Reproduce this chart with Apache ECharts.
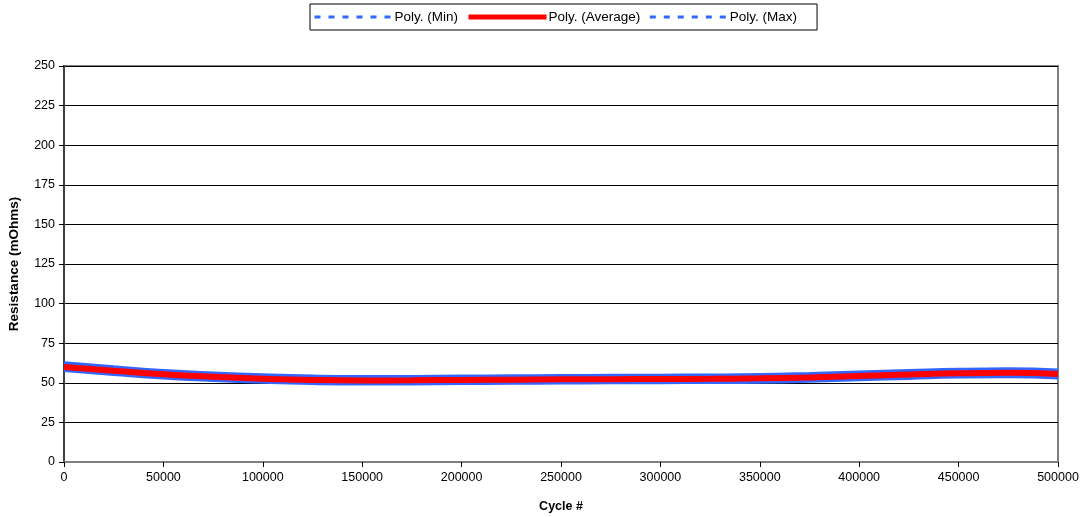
<!DOCTYPE html>
<html><head><meta charset="utf-8">
<script src="https://cdn.jsdelivr.net/npm/echarts@6/dist/echarts.min.js"></script>
<style>html,body{margin:0;padding:0;background:#fff}#c{width:1084px;height:517px}</style>
</head><body><div id="c"></div>
<script>
var cycles = [0,25000,50000,75000,100000,125000,150000,175000,200000,225000,250000,275000,300000,325000,350000,375000,400000,425000,450000,475000,500000];
var minVals = [58,55.6,53.4,51.8,50.6,49.8,49.5,49.6,49.8,50,50.2,50.3,50.4,50.5,50.7,51.3,52.2,53.1,53.9,54.2,53.4];
var avgVals = [60,57.6,55.4,53.8,52.6,51.8,51.5,51.6,51.8,52,52.2,52.3,52.4,52.5,52.8,53.4,54.3,55.2,56,56.3,55.5];
var maxVals = [62.3,59.8,57.5,55.9,54.7,53.9,53.6,53.7,53.9,54.1,54.3,54.4,54.5,54.6,54.9,55.6,56.5,57.4,58.2,58.5,57.7];
var yTicks = [0,25,50,75,100,125,150,175,200,225,250];
var xTicks = [0,50000,100000,150000,200000,250000,300000,350000,400000,450000,500000];

function pairs(v){return cycles.map(function(c,i){return [c,v[i]];});}
var font = 'Liberation Sans, Arial, sans-serif';
var chart = echarts.init(document.getElementById('c'));
chart.setOption({
  animation:false,
  backgroundColor:'#fff',
  textStyle:{fontFamily:font},
  legend:{
    top:4, left:310,
    borderColor:'#000', borderWidth:1, padding:[6,20,6,3],
    itemWidth:78, itemHeight:8, itemGap:8,
    textStyle:{fontSize:13.5,color:'#000',fontFamily:font,padding:[0,0,0,-3]},
    data:[
      {name:'Poly. (Min)', itemStyle:{opacity:0}, lineStyle:{type:[6,8],width:3,color:'#3366ff'}},
      {name:'Poly. (Average)', itemStyle:{opacity:0}, lineStyle:{type:'solid',width:5,color:'#ff0000'}},
      {name:'Poly. (Max)', itemStyle:{opacity:0}, lineStyle:{type:[6,8],width:3,color:'#3366ff'}}
    ]
  },
  grid:{left:64,right:26,top:66,bottom:55,show:true,borderColor:'#808080',borderWidth:2,outerBoundsMode:'none',containLabel:false},
  xAxis:{
    type:'value', min:0, max:500000, interval:50000,
    name:'Cycle #', nameLocation:'middle', nameGap:38,
    nameTextStyle:{fontWeight:'bold',fontSize:12.5,color:'#000',fontFamily:font},
    axisLine:{show:true,lineStyle:{color:'#808080',width:2}},
    axisTick:{show:true,inside:false,length:5,lineStyle:{color:'#000'}},
    axisLabel:{fontSize:12.5,color:'#000',margin:9,fontFamily:font,formatter:function(v){return String(v);}},
    splitLine:{show:false}
  },
  yAxis:{
    type:'value', min:0, max:250, interval:25,
    name:'Resistance (mOhms)', nameLocation:'middle', nameGap:43,
    nameTextStyle:{fontWeight:'bold',fontSize:13.5,color:'#000',fontFamily:font},
    axisLine:{show:true,lineStyle:{color:'#404040',width:2}},
    axisTick:{show:true,length:5,lineStyle:{color:'#000'}},
    axisLabel:{fontSize:12.5,color:'#000',margin:9,fontFamily:font},
    splitLine:{show:true,lineStyle:{color:'#000',width:1}}
  },
  series:[
    {name:'Poly. (Min)', type:'line', smooth:true, showSymbol:false, symbol:'none', data:pairs(minVals),
     lineStyle:{color:'#3366ff',width:4}, itemStyle:{color:'#3366ff'}},
    {name:'Poly. (Max)', type:'line', smooth:true, showSymbol:false, symbol:'none', data:pairs(maxVals),
     lineStyle:{color:'#3366ff',width:4}, itemStyle:{color:'#3366ff'}},
    {name:'Poly. (Average)', type:'line', smooth:true, showSymbol:false, symbol:'none', data:pairs(avgVals), z:5,
     lineStyle:{color:'#ff0000',width:6}, itemStyle:{color:'#ff0000'}}
  ]
});
</script></body></html>
